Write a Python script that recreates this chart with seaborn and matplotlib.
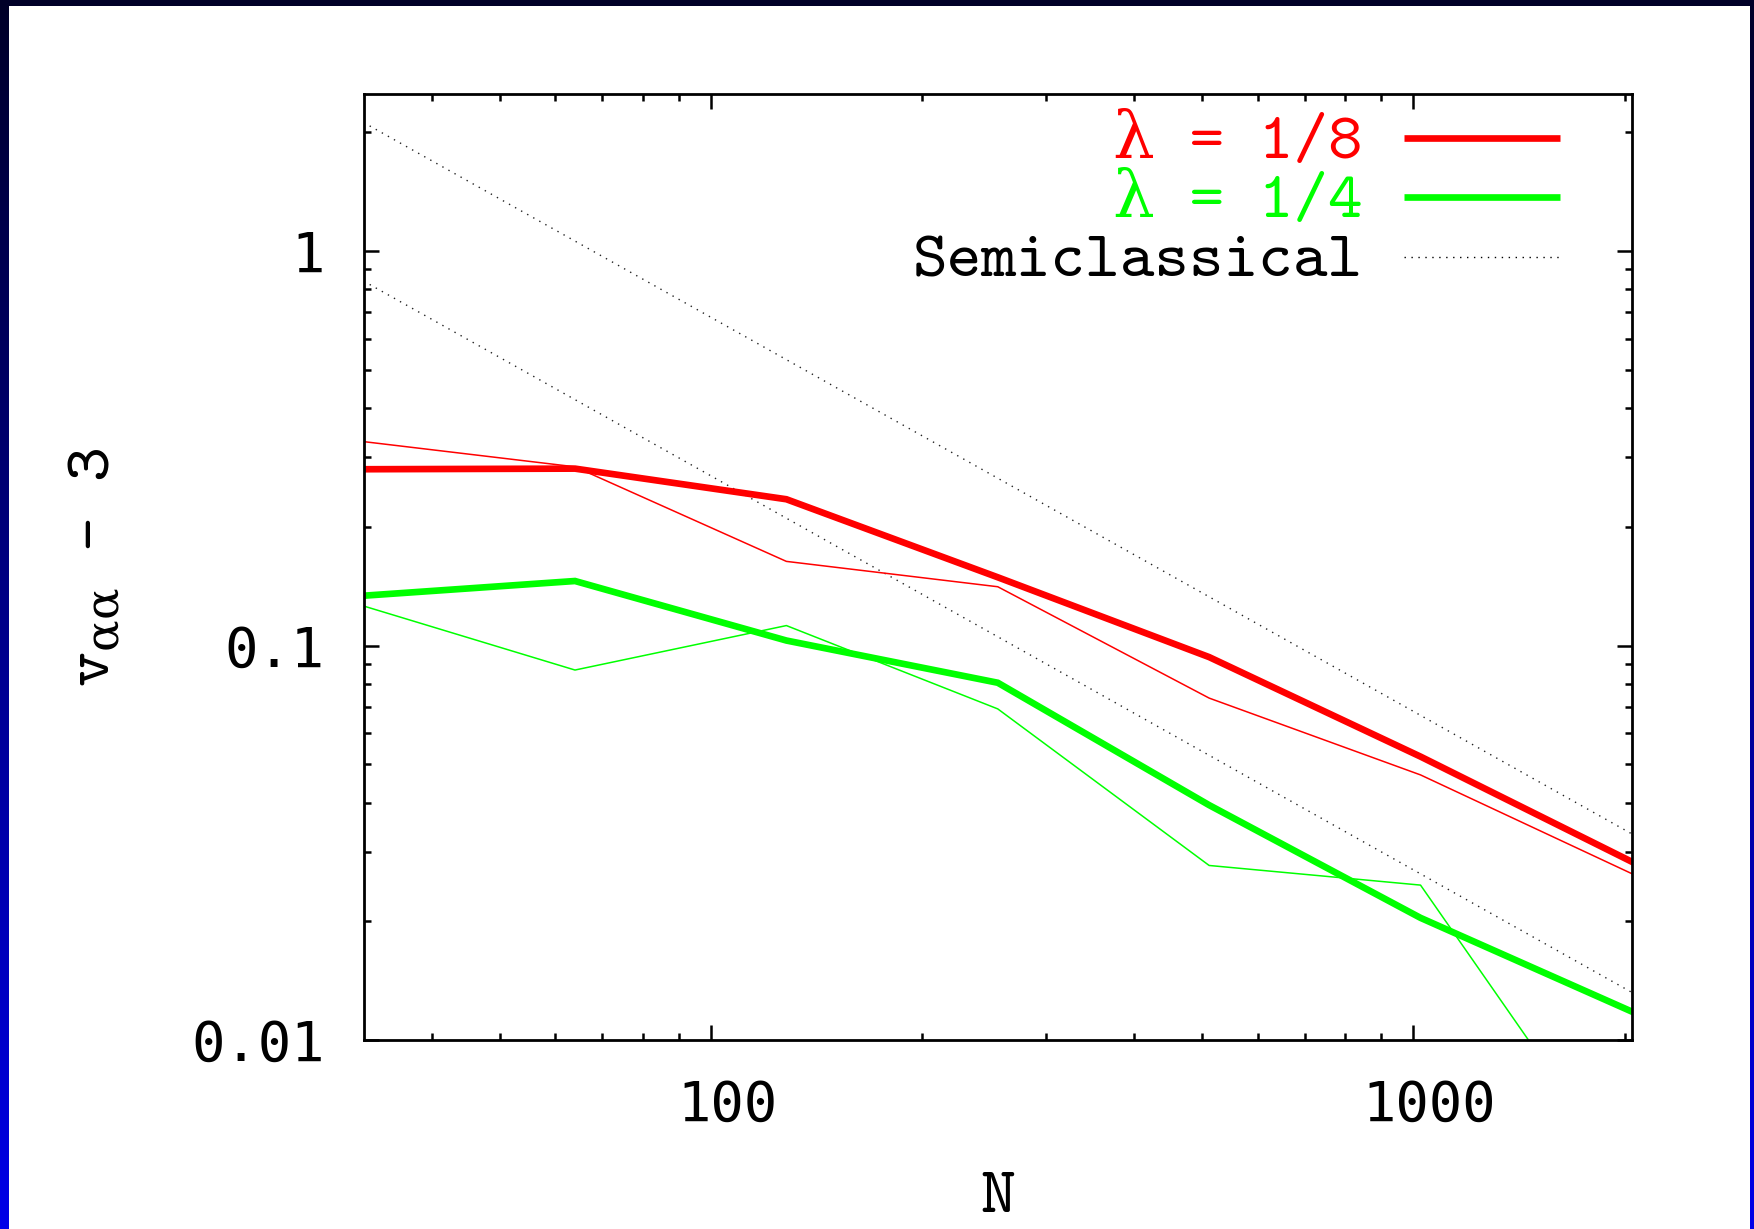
import numpy as np
import pandas as pd
import matplotlib
matplotlib.use("Agg")
import matplotlib.pyplot as plt
from matplotlib.colors import LinearSegmentedColormap
from matplotlib.patches import Rectangle
from matplotlib.transforms import ScaledTranslation
from matplotlib.ticker import FixedLocator, LogLocator, NullFormatter, FixedFormatter
import seaborn as sns

# System sizes
N = [32, 64, 128, 256, 512, 1024, 2048]

# v_aa - 3 for lambda = 1/8
lam8_bold = [0.280, 0.281, 0.235, 0.149, 0.0935, 0.0523, 0.0283]
lam8_thin = [0.329, 0.284, 0.1635, 0.141, 0.0736, 0.0470, 0.0264]

# v_aa - 3 for lambda = 1/4
lam4_bold = [0.1338, 0.1458, 0.1030, 0.0805, 0.0394, 0.0204, 0.0118]
lam4_thin = [0.126, 0.0867, 0.1124, 0.0691, 0.0277, 0.0247, 0.0042]

# Semiclassical 1/N predictions (end points over the plotted range)
N_sc = [32, 2048]
sc_upper = [2.12, 0.0333]
sc_lower = [0.84, 0.0132]

x_ticks = [100, 1000]
x_ticklabels = ["100", "1000"]
y_ticks = [0.01, 0.1, 1]
y_ticklabels = ["0.01", "0.1", "1"]

legend_labels = ["λ = 1/8", "λ = 1/4", "Semiclassical"]

RED = "#ff0000"
GREEN = "#00ff00"
W, H = 1754, 1229

plt.rcParams["mathtext.fontset"] = "dejavuserif"
fig = plt.figure(figsize=(W / 100, H / 100), dpi=100)

# blue gradient frame around a white sheet
bg = fig.add_axes([0, 0, 1, 1], zorder=-10)
grad = np.linspace(0, 1, 256).reshape(-1, 1)
cmap = LinearSegmentedColormap.from_list("frame", ["#0000e8", "#000028"])
bg.imshow(grad, aspect="auto", cmap=cmap, origin="lower", extent=[0, 1, 0, 1])
bg.add_patch(Rectangle((9 / W, 0), (1750 - 9) / W, (H - 6) / H,
                       transform=bg.transAxes, facecolor="white", edgecolor="none"))
bg.set_xlim(0, 1)
bg.set_ylim(0, 1)
bg.set_axis_off()

ax = fig.add_axes([0.2073, 0.1538, 0.7231, 0.7695])
ax.set_xscale("log")
ax.set_yscale("log")

dotted = (0, (1, 4))
for yv in (sc_upper, sc_lower):
    sns.lineplot(x=N_sc, y=yv, ax=ax, color="#222222", lw=1.0, linestyle=dotted)

sns.lineplot(x=N, y=lam8_thin, ax=ax, color=RED, lw=1.1)
sns.lineplot(x=N, y=lam4_thin, ax=ax, color=GREEN, lw=1.1)
sns.lineplot(x=N, y=lam8_bold, ax=ax, color=RED, lw=4.8, solid_joinstyle="miter")
sns.lineplot(x=N, y=lam4_bold, ax=ax, color=GREEN, lw=4.8, solid_joinstyle="miter")

ax.set_xlim(32, 2048)
ax.set_ylim(0.01, 2.5)

ax.xaxis.set_major_locator(FixedLocator(x_ticks))
ax.xaxis.set_major_formatter(FixedFormatter(x_ticklabels))
ax.yaxis.set_major_locator(FixedLocator(y_ticks))
ax.yaxis.set_major_formatter(FixedFormatter(y_ticklabels))
for axis in (ax.xaxis, ax.yaxis):
    axis.set_minor_locator(LogLocator(base=10, subs=range(2, 10), numticks=20))
    axis.set_minor_formatter(NullFormatter())

ax.tick_params(which="both", direction="in", top=True, right=True, width=1.8, pad=28)
ax.tick_params(which="major", length=10.8)
ax.tick_params(which="minor", length=5)
for sp in ax.spines.values():
    sp.set_linewidth(2.0)

for lab in ax.get_xticklabels() + ax.get_yticklabels():
    lab.set_fontfamily("DejaVu Sans Mono")
    lab.set_fontsize(40)
# x labels sit slightly right of their ticks
shift = ScaledTranslation(0.16, 0, fig.dpi_scale_trans)
for tick in ax.xaxis.get_major_ticks():
    tick.label1.set_transform(tick.label1.get_transform() + shift)

label_font = ["cmtt10", "DejaVu Serif"]
ax.set_xlabel("N", family=label_font, fontsize=48, va="center")
ax.xaxis.set_label_coords(0.5, -0.1685)
ax.set_ylabel(r"v$_{\mathrm{\alpha\alpha}}$ - 3", family=label_font, fontsize=48, va="center")
ax.yaxis.set_label_coords(-0.2102, 0.5)

# key in the upper right: right-aligned text followed by a line sample
rows = [
    (legend_labels[0], RED, 4.8, "-", 0.9534, 0.9323),
    (legend_labels[1], GREEN, 4.8, "-", 0.8909, 0.8699),
    (legend_labels[2], "black", 1.0, dotted, 0.8282, 0.8071),
]
for text, col, lw, ls, yline, ybase in rows:
    ax.plot([0.8200, 0.9432], [yline, yline], transform=ax.transAxes,
            color=col, lw=lw, linestyle=ls, solid_capstyle="butt")
    ax.text(0.7879, ybase, text, transform=ax.transAxes, ha="right", va="baseline",
            color=col, family=label_font, fontsize=47.5)

fig.savefig("out.png", dpi=100)
